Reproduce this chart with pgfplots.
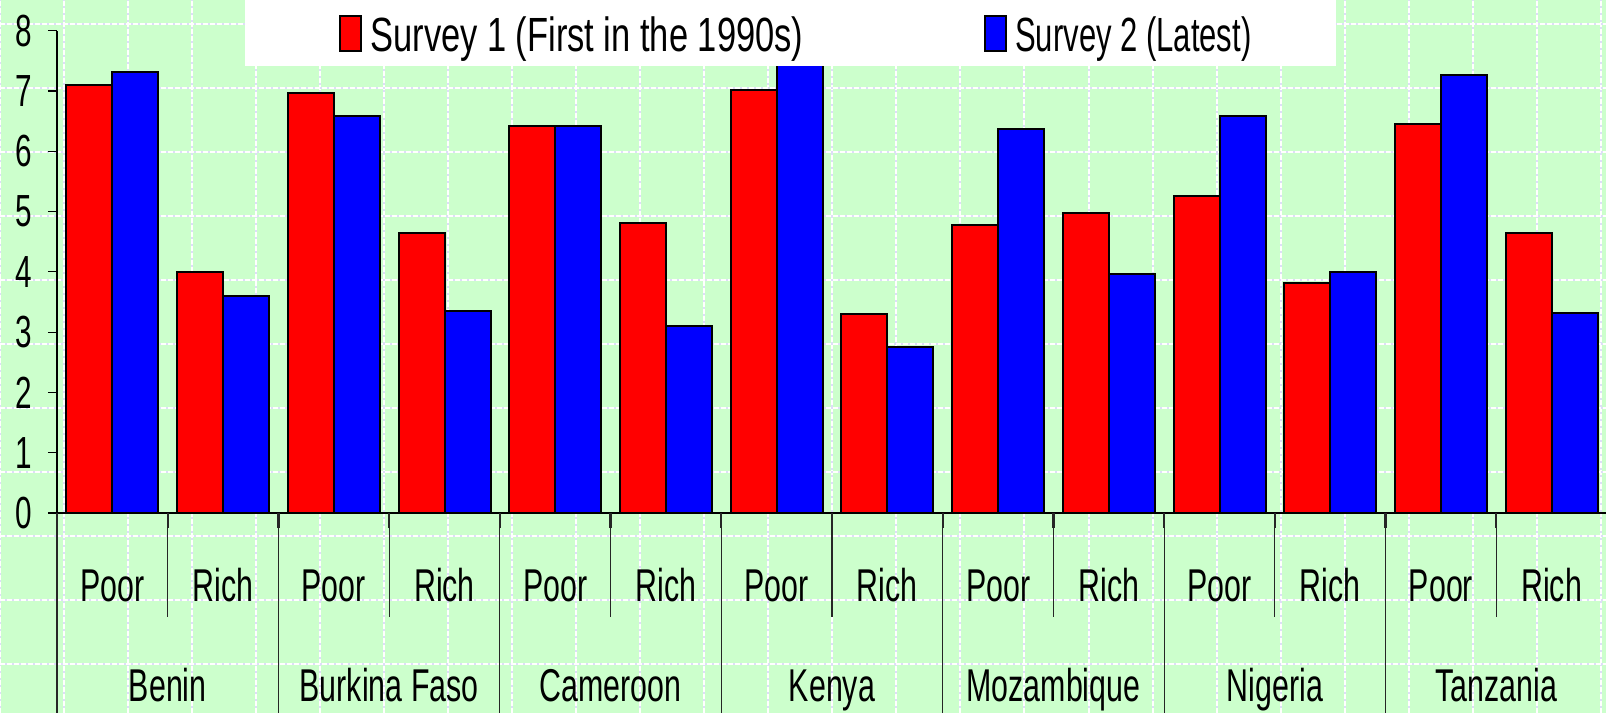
\documentclass[border=0pt]{standalone}
\usepackage{pgfplots}
\usepackage{pgfplotstable}
\pgfplotsset{compat=1.18}
\usepackage{fontspec}
\setmainfont{Liberation Sans}[FakeStretch=0.66]
\newfontfamily\legA{Liberation Sans}[FakeStretch=0.718]
\newfontfamily\legB{Liberation Sans}[FakeStretch=0.646]
\definecolor{bg}{RGB}{204,255,204}
\definecolor{gridlav}{RGB}{222,222,248}

\pgfplotstableread{
x s1 s2
0 7.10 7.31
1 4.00 3.60
2 6.97 6.58
3 4.65 3.35
4 6.41 6.41
5 4.81 3.10
6 7.01 7.60
7 3.30 2.75
8 4.77 6.36
9 4.98 3.96
10 5.25 6.58
11 3.82 4.00
12 6.45 7.27
13 4.64 3.31
}\datatable

\begin{document}
\begin{tikzpicture}
\useasboundingbox (0,0) rectangle (803pt,356.5pt);
\fill[bg] (0,0) rectangle (803pt,356.5pt);
\foreach \k in {0,...,25} {
  \draw[gridlav, line width=1pt] (\k*32.015pt,0) -- (\k*32.015pt,356.5pt);
  \draw[white, line width=1pt, dash pattern=on 2.5pt off 1pt] (\k*32.015pt,0) -- (\k*32.015pt,356.5pt);
}
\foreach \k in {0,...,10} {
  \draw[gridlav, line width=1pt] (0,344.5pt-\k*32pt) -- (803pt,344.5pt-\k*32pt);
  \draw[white, line width=1pt, dash pattern=on 2.5pt off 1pt] (0,344.5pt-\k*32pt) -- (803pt,344.5pt-\k*32pt);
}
\begin{axis}[
  at={(28.5pt,100pt)}, anchor=south west,
  scale only axis, width=775pt, height=241.2pt,
  xmin=-0.5, xmax=13.5, ymin=0, ymax=8,
  axis lines*=left,
  axis line style={black, line width=0.6pt},
  clip=false,
  ytick={0,...,8},
  tick align=outside,
  major tick length=4.5pt,
  ytick style={black, line width=0.6pt},
  xtick={0,...,13},
  xticklabels={Poor,Rich,Poor,Rich,Poor,Rich,Poor,Rich,Poor,Rich,Poor,Rich,Poor,Rich},
  xtick style={draw=none},
  /pgf/number format/assume math mode=true,
  yticklabel style={font=\fontsize{22.5}{22.5}\selectfont, xshift=-4.5pt},
  xticklabel style={font=\fontsize{23}{23}\selectfont, anchor=base, yshift=-39.8pt},
  legend columns=2,
  legend style={at={(axis description cs:0.12129,1.06343)}, anchor=north west,
    fill=white, draw=none, inner xsep=42.5pt, inner ysep=3pt,
    font=\fontsize{24}{24}\selectfont,
    nodes={inner sep=0pt, text height=22.5pt, text depth=4.5pt},
    /tikz/every odd column/.append style={column sep=4pt},
    /tikz/every even column/.append style={column sep=90.5pt}},
]
\addplot[ybar, bar width=0.4155, bar shift=-0.20775, fill=red, draw=black, line width=1pt,
  legend image code/.code={\path (-4.5pt,0) -- (-4.5pt,0); \draw[black, line width=1pt, fill=red] (0,-8.75pt) rectangle (10.5pt,8.75pt);}]
  table[x=x,y=s1]{\datatable};
\addlegendentry{\legA Survey 1 (First in the 1990s)}
\addplot[ybar, bar width=0.4155, bar shift=0.20775, fill=blue, draw=black, line width=1pt,
  legend image code/.code={\draw[black, line width=1pt, fill=blue] (0,-8.75pt) rectangle (10.5pt,8.75pt);}]
  table[x=x,y=s2]{\datatable};
\addlegendentry{\legB Survey 2 (Latest)}
\pgfplotsinvokeforeach{-0.5,1.5,3.5,5.5,7.5,9.5,11.5,13.5}{
  \draw[black!85, line width=0.6pt] (axis cs:#1,0) -- ([yshift=-100pt]axis cs:#1,0);
  \draw[black!85, line width=1.1pt] (axis cs:#1,0) -- ([yshift=-7.5pt]axis cs:#1,0);
}
\pgfplotsinvokeforeach{0.5,2.5,4.5,6.5,8.5,10.5,12.5}{
  \draw[black!85, line width=0.6pt] (axis cs:#1,0) -- ([yshift=-52pt]axis cs:#1,0);
  \draw[black!85, line width=1.1pt] (axis cs:#1,0) -- ([yshift=-7.5pt]axis cs:#1,0);
}
\begin{scope}[every node/.style={anchor=base, yshift=-94.3pt, font=\fontsize{23}{23}\selectfont, inner sep=0pt}]
\node at (axis cs:0.5,0) {Benin};
\node at (axis cs:2.5,0) {Burkina Faso};
\node at (axis cs:4.5,0) {Cameroon};
\node at (axis cs:6.5,0) {Kenya};
\node at (axis cs:8.5,0) {Mozambique};
\node at (axis cs:10.5,0) {Nigeria};
\node at (axis cs:12.5,0) {Tanzania};
\end{scope}
\end{axis}
\end{tikzpicture}
\end{document}
